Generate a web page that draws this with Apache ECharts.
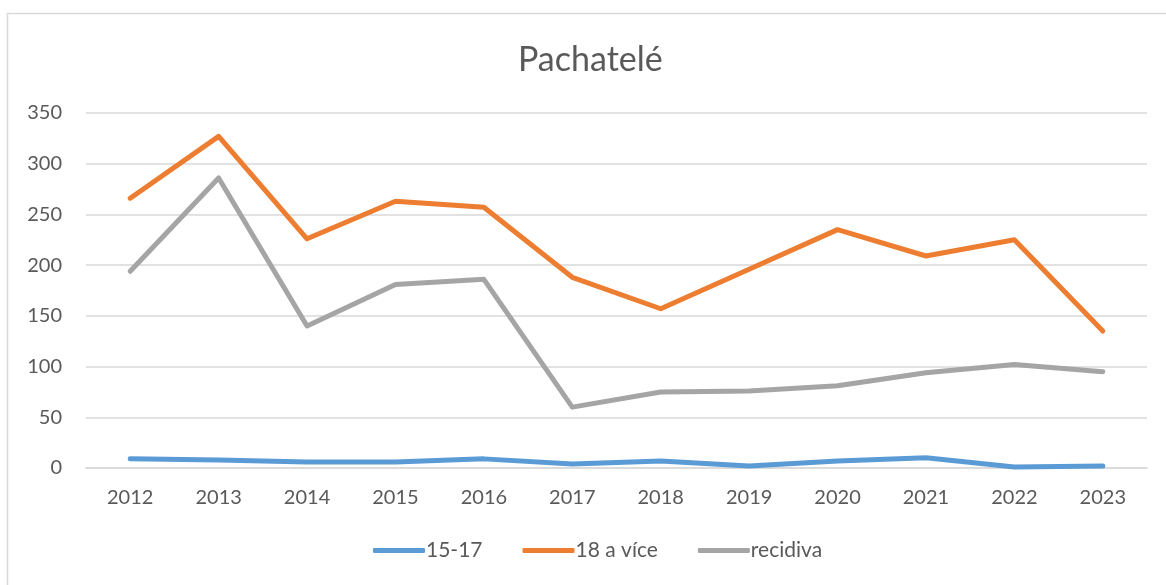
<!DOCTYPE html>
<html>
<head>
<meta charset="utf-8">
<script src="https://cdn.jsdelivr.net/npm/echarts@6/dist/echarts.min.js"></script>
<style>
  html, body { margin: 0; padding: 0; background: #fff; }
  #chart { width: 1166px; height: 585px; }
</style>
</head>
<body>
<div id="chart"></div>
<script>
var years = ['2012', '2013', '2014', '2015', '2016', '2017', '2018', '2019', '2020', '2021', '2022', '2023'];
var youth = [9, 8, 6, 6, 9, 4, 7, 2, 7, 10, 1, 2];
var adults = [266, 327, 226, 263, 257, 188, 157, 196, 235, 209, 225, 135];
var recidiva = [194, 286, 140, 181, 186, 60, 75, 76, 81, 94, 102, 95];
var seriesNames = ['15-17', '18 a více', 'recidiva'];
var colors = ['#5B9BD5', '#ED7D31', '#A5A5A5'];

var chart = echarts.init(document.getElementById('chart'));
var font = 'Lato, "Noto Sans", sans-serif';

function lineSeries(name, data, color) {
  return {
    name: name,
    type: 'line',
    data: data,
    symbol: 'none',
    lineStyle: { color: color, width: 5, cap: 'round', join: 'round' },
    itemStyle: { color: color }
  };
}

chart.setOption({
  backgroundColor: '#fff',
  animation: false,
  textStyle: { fontFamily: font },
  graphic: [{
    type: 'rect',
    shape: { x: 7.5, y: 13.5, width: 1180, height: 600 },
    style: { fill: 'none', stroke: '#d9d9d9', lineWidth: 1.5 },
    silent: true
  }],
  title: {
    text: 'Pachatelé',
    left: 513,
    top: 38,
    textStyle: { color: '#595959', fontSize: 34, fontWeight: 'normal', fontFamily: font }
  },
  legend: {
    bottom: 19,
    left: 368,
    icon: 'roundRect',
    itemWidth: 52,
    itemHeight: 5,
    itemGap: 40,
    data: seriesNames,
    textStyle: { color: '#595959', fontSize: 21, fontFamily: font, padding: [0, 0, 0, -4] }
  },
  grid: { left: 86, right: 19, top: 113, bottom: 117 },
  xAxis: {
    type: 'category',
    data: years,
    boundaryGap: true,
    axisLine: { lineStyle: { color: '#d9d9d9', width: 1.5 } },
    axisTick: { show: false },
    axisLabel: { color: '#595959', fontSize: 20, margin: 20, fontFamily: font }
  },
  yAxis: {
    type: 'value',
    min: 0,
    max: 350,
    interval: 50,
    axisLine: { show: false },
    axisTick: { show: false },
    axisLabel: { color: '#595959', fontSize: 20, margin: 24, fontFamily: font },
    splitLine: { lineStyle: { color: '#d9d9d9', width: 1.5 } }
  },
  series: [
    lineSeries(seriesNames[0], youth, colors[0]),
    lineSeries(seriesNames[1], adults, colors[1]),
    lineSeries(seriesNames[2], recidiva, colors[2])
  ]
});
</script>
</body>
</html>
